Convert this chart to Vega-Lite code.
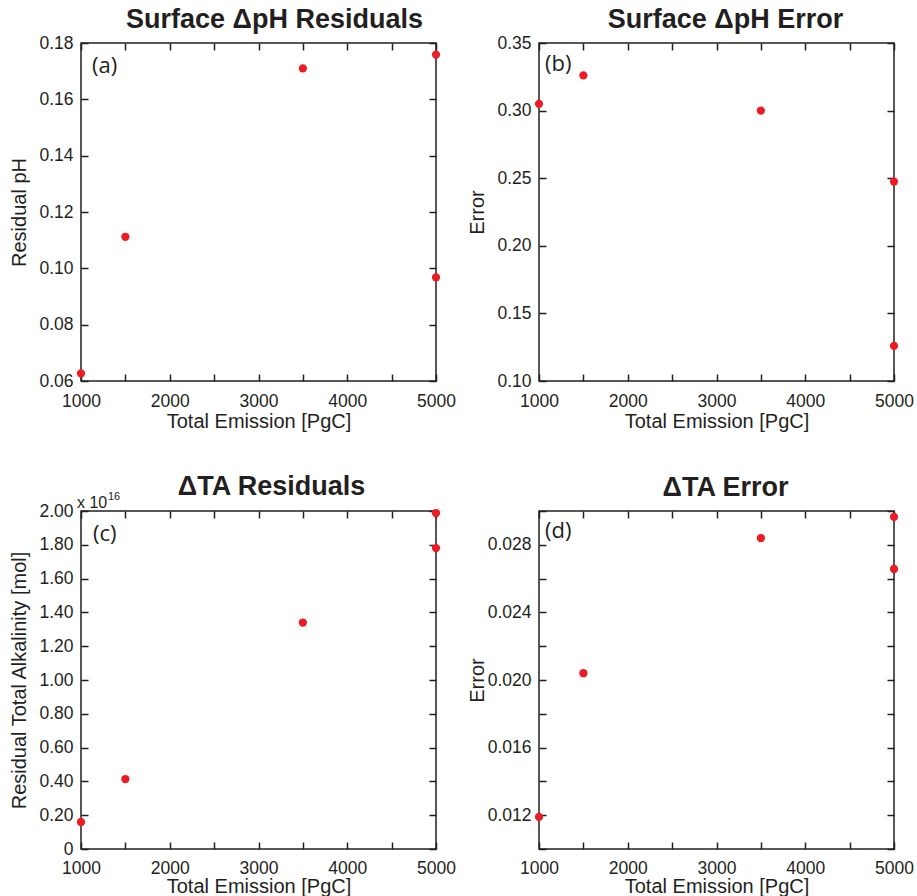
{
  "$schema": "https://vega.github.io/schema/vega-lite/v6.json",
  "autosize": {"type": "pad"},
  "padding": {"left": 8, "top": 5, "right": 0, "bottom": 0},
  "background": "white",
  "data": {
    "values": [
      {"panel": "a", "emission": 1000, "value": 0.0627},
      {"panel": "a", "emission": 1500, "value": 0.1112},
      {"panel": "a", "emission": 3500, "value": 0.171},
      {"panel": "a", "emission": 5000, "value": 0.1759},
      {"panel": "a", "emission": 5000, "value": 0.0968},
      {"panel": "b", "emission": 1000, "value": 0.305},
      {"panel": "b", "emission": 1500, "value": 0.326},
      {"panel": "b", "emission": 3500, "value": 0.300},
      {"panel": "b", "emission": 5000, "value": 0.2475},
      {"panel": "b", "emission": 5000, "value": 0.126},
      {"panel": "c", "emission": 1000, "value": 0.16},
      {"panel": "c", "emission": 1500, "value": 0.414},
      {"panel": "c", "emission": 3500, "value": 1.34},
      {"panel": "c", "emission": 5000, "value": 1.988},
      {"panel": "c", "emission": 5000, "value": 1.781},
      {"panel": "d", "emission": 1000, "value": 0.0119},
      {"panel": "d", "emission": 1500, "value": 0.0204},
      {"panel": "d", "emission": 3500, "value": 0.0284},
      {"panel": "d", "emission": 5000, "value": 0.02965},
      {"panel": "d", "emission": 5000, "value": 0.02657}
    ]
  },
  "columns": 2,
  "spacing": {"row": 130, "column": 103},
  "bounds": "flush",
  "concat": [
    {
      "width": 355, "height": 338,
      "title": {"text": "Surface ΔpH Residuals", "dx": 16, "offset": 0},
      "layer": [
        {
          "transform": [{"filter": "datum.panel === 'a'"}],
          "mark": {"type": "point", "filled": true, "size": 68, "color": "#ec1c24", "opacity": 1, "strokeWidth": 0},
          "encoding": {
            "x": {"field": "emission", "type": "quantitative", "scale": {"domain": [1000, 5000], "nice": false, "zero": false},
              "axis": {"orient": "bottom", "ticks": true, "tickSize": 7, "offset": -7, "tickColor": "#231f20", "values": [1000, 1500, 2000, 2500, 3000, 3500, 4000, 4500, 5000], "labelExpr": "round(datum.value) % 1000 === 0 ? format(datum.value, 'd') : ''", "title": "Total Emission [PgC]", "titleY": 53}},
            "y": {"field": "value", "type": "quantitative", "scale": {"domain": [0.06, 0.18], "nice": false, "zero": false},
              "axis": {"orient": "left", "ticks": true, "tickSize": 7, "offset": -7, "tickColor": "#231f20", "values": [0.06, 0.08, 0.10, 0.12, 0.14, 0.16, 0.18], "format": ".2f", "title": "Residual pH", "titleX": -63}}
          }
        },
        {
          "data": {"values": [{}]},
          "mark": {"type": "text", "text": "(a)", "font": "Open Sans", "fontSize": 22, "align": "left", "baseline": "top", "dx": 11, "dy": 13, "color": "#231f20"},
          "encoding": {
            "x": {"datum": 1000, "type": "quantitative", "scale": {"domain": [1000, 5000], "nice": false, "zero": false},
              "axis": {"orient": "top", "ticks": true, "tickSize": 7, "offset": -7, "tickColor": "#231f20", "values": [1000, 1500, 2000, 2500, 3000, 3500, 4000, 4500, 5000], "labels": false, "title": null}},
            "y": {"datum": 0.18, "type": "quantitative", "scale": {"domain": [0.06, 0.18], "nice": false, "zero": false},
              "axis": {"orient": "right", "ticks": true, "tickSize": 7, "offset": -7, "tickColor": "#231f20", "values": [0.06, 0.08, 0.10, 0.12, 0.14, 0.16, 0.18], "labels": false, "title": null}}
          }
        }
      ],
      "resolve": {"axis": {"x": "independent", "y": "independent"}}
    },
    {
      "width": 355, "height": 338,
      "title": {"text": "Surface ΔpH Error", "dx": 9, "offset": 0},
      "layer": [
        {
          "transform": [{"filter": "datum.panel === 'b'"}],
          "mark": {"type": "point", "filled": true, "size": 68, "color": "#ec1c24", "opacity": 1, "strokeWidth": 0},
          "encoding": {
            "x": {"field": "emission", "type": "quantitative", "scale": {"domain": [1000, 5000], "nice": false, "zero": false},
              "axis": {"orient": "bottom", "ticks": true, "tickSize": 7, "offset": -7, "tickColor": "#231f20", "values": [1000, 1500, 2000, 2500, 3000, 3500, 4000, 4500, 5000], "labelExpr": "round(datum.value) % 1000 === 0 ? format(datum.value, 'd') : ''", "title": "Total Emission [PgC]", "titleY": 53}},
            "y": {"field": "value", "type": "quantitative", "scale": {"domain": [0.10, 0.35], "nice": false, "zero": false},
              "axis": {"orient": "left", "ticks": true, "tickSize": 7, "offset": -7, "tickColor": "#231f20", "values": [0.10, 0.15, 0.20, 0.25, 0.30, 0.35], "format": ".2f", "title": "Error", "titleX": -63}}
          }
        },
        {
          "data": {"values": [{}]},
          "mark": {"type": "text", "text": "(b)", "font": "Open Sans", "fontSize": 22, "align": "left", "baseline": "top", "dx": 6, "dy": 11, "color": "#231f20"},
          "encoding": {
            "x": {"datum": 1000, "type": "quantitative", "scale": {"domain": [1000, 5000], "nice": false, "zero": false},
              "axis": {"orient": "top", "ticks": true, "tickSize": 7, "offset": -7, "tickColor": "#231f20", "values": [1000, 1500, 2000, 2500, 3000, 3500, 4000, 4500, 5000], "labels": false, "title": null}},
            "y": {"datum": 0.35, "type": "quantitative", "scale": {"domain": [0.10, 0.35], "nice": false, "zero": false},
              "axis": {"orient": "right", "ticks": true, "tickSize": 7, "offset": -7, "tickColor": "#231f20", "values": [0.10, 0.15, 0.20, 0.25, 0.30, 0.35], "labels": false, "title": null}}
          }
        }
      ],
      "resolve": {"axis": {"x": "independent", "y": "independent"}}
    },
    {
      "width": 355, "height": 338,
      "title": {"text": "ΔTA Residuals", "dx": 13, "offset": -10},
      "layer": [
        {
          "transform": [{"filter": "datum.panel === 'c'"}],
          "mark": {"type": "point", "filled": true, "size": 68, "color": "#ec1c24", "opacity": 1, "strokeWidth": 0},
          "encoding": {
            "x": {"field": "emission", "type": "quantitative", "scale": {"domain": [1000, 5000], "nice": false, "zero": false},
              "axis": {"orient": "bottom", "ticks": true, "tickSize": 7, "offset": -7, "tickColor": "#231f20", "values": [1000, 1500, 2000, 2500, 3000, 3500, 4000, 4500, 5000], "labelExpr": "round(datum.value) % 1000 === 0 ? format(datum.value, 'd') : ''", "title": "Total Emission [PgC]", "titleY": 50, "labelPadding": 10.5}},
            "y": {"field": "value", "type": "quantitative", "scale": {"domain": [0, 2.0], "nice": false, "zero": false},
              "axis": {"orient": "left", "ticks": true, "tickSize": 7, "offset": -7, "tickColor": "#231f20", "values": [0, 0.2, 0.4, 0.6, 0.8, 1.0, 1.2, 1.4, 1.6, 1.8, 2.0], "labelExpr": "datum.value === 0 ? '0' : format(datum.value, '.2f')", "title": "Residual Total Alkalinity [mol]", "titleX": -63}}
          }
        },
        {
          "data": {"values": [{}]},
          "mark": {"type": "text", "text": "(c)", "font": "Open Sans", "fontSize": 22, "align": "left", "baseline": "top", "dx": 12, "dy": 13, "color": "#231f20"},
          "encoding": {
            "x": {"datum": 1000, "type": "quantitative", "scale": {"domain": [1000, 5000], "nice": false, "zero": false},
              "axis": {"orient": "top", "ticks": true, "tickSize": 7, "offset": -7, "tickColor": "#231f20", "values": [1000, 1500, 2000, 2500, 3000, 3500, 4000, 4500, 5000], "labels": false, "title": null}},
            "y": {"datum": 2.0, "type": "quantitative", "scale": {"domain": [0, 2.0], "nice": false, "zero": false},
              "axis": {"orient": "right", "ticks": true, "tickSize": 7, "offset": -7, "tickColor": "#231f20", "values": [0, 0.2, 0.4, 0.6, 0.8, 1.0, 1.2, 1.4, 1.6, 1.8, 2.0], "labels": false, "title": null}}
          }
        },
        {
          "data": {"values": [{}]},
          "mark": {"type": "text", "text": "x 10", "font": "Liberation Sans", "fontSize": 16, "align": "left", "baseline": "alphabetic", "dx": -4, "dy": -3, "color": "#231f20"},
          "encoding": {
            "x": {"datum": 1000, "type": "quantitative", "axis": null},
            "y": {"datum": 2.0, "type": "quantitative", "axis": null}
          }
        },
        {
          "data": {"values": [{}]},
          "mark": {"type": "text", "text": "16", "font": "Liberation Sans", "fontSize": 11, "align": "left", "baseline": "alphabetic", "dx": 27, "dy": -11, "color": "#231f20"},
          "encoding": {
            "x": {"datum": 1000, "type": "quantitative", "axis": null},
            "y": {"datum": 2.0, "type": "quantitative", "axis": null}
          }
        }
      ],
      "resolve": {"axis": {"x": "independent", "y": "independent"}}
    },
    {
      "width": 355, "height": 338,
      "title": {"text": "ΔTA Error", "dx": 9, "offset": 0},
      "layer": [
        {
          "transform": [{"filter": "datum.panel === 'd'"}],
          "mark": {"type": "point", "filled": true, "size": 68, "color": "#ec1c24", "opacity": 1, "strokeWidth": 0},
          "encoding": {
            "x": {"field": "emission", "type": "quantitative", "scale": {"domain": [1000, 5000], "nice": false, "zero": false},
              "axis": {"orient": "bottom", "ticks": true, "tickSize": 7, "offset": -7, "tickColor": "#231f20", "values": [1000, 1500, 2000, 2500, 3000, 3500, 4000, 4500, 5000], "labelExpr": "round(datum.value) % 1000 === 0 ? format(datum.value, 'd') : ''", "title": "Total Emission [PgC]", "titleY": 50, "labelPadding": 10.5}},
            "y": {"field": "value", "type": "quantitative", "scale": {"domain": [0.010, 0.030], "nice": false, "zero": false},
              "axis": {"orient": "left", "ticks": true, "tickSize": 7, "offset": -7, "tickColor": "#231f20", "values": [0.010, 0.012, 0.014, 0.016, 0.018, 0.020, 0.022, 0.024, 0.026, 0.028, 0.030], "labelExpr": "round(datum.value * 1000) % 4 === 0 ? format(datum.value, '.3f') : ''", "title": "Error", "titleX": -63}}
          }
        },
        {
          "data": {"values": [{}]},
          "mark": {"type": "text", "text": "(d)", "font": "Open Sans", "fontSize": 22, "align": "left", "baseline": "top", "dx": 6, "dy": 10, "color": "#231f20"},
          "encoding": {
            "x": {"datum": 1000, "type": "quantitative", "scale": {"domain": [1000, 5000], "nice": false, "zero": false},
              "axis": {"orient": "top", "ticks": true, "tickSize": 7, "offset": -7, "tickColor": "#231f20", "values": [1000, 1500, 2000, 2500, 3000, 3500, 4000, 4500, 5000], "labels": false, "title": null}},
            "y": {"datum": 0.030, "type": "quantitative", "scale": {"domain": [0.010, 0.030], "nice": false, "zero": false},
              "axis": {"orient": "right", "ticks": true, "tickSize": 7, "offset": -7, "tickColor": "#231f20", "values": [0.010, 0.012, 0.014, 0.016, 0.018, 0.020, 0.022, 0.024, 0.026, 0.028, 0.030], "labels": false, "title": null}}
          }
        }
      ],
      "resolve": {"axis": {"x": "independent", "y": "independent"}}
    }
  ],
  "config": {
    "view": {"stroke": "#231f20", "strokeWidth": 1.5},
    "font": "Liberation Sans",
    "title": {"font": "Liberation Sans", "fontSize": 27, "fontWeight": "bold", "color": "#231f20", "anchor": "middle", "frame": "group", "baseline": "alphabetic"},
    "axis": {
      "domain": false, "grid": false,
      "tickWidth": 1.5, "tickOpacity": 1,
      "labelFont": "Liberation Sans", "labelFontSize": 17.5, "labelColor": "#231f20",
      "titleFont": "Liberation Sans", "titleFontSize": 20, "titleFontWeight": "normal", "titleColor": "#231f20",
      "labelFlush": false, "labelOverlap": false, "labelBound": false
    },
    "axisX": {"labelPadding": 11.7, "titleBaseline": "alphabetic"},
    "axisY": {"labelPadding": 8, "titleBaseline": "alphabetic"}
  }
}
